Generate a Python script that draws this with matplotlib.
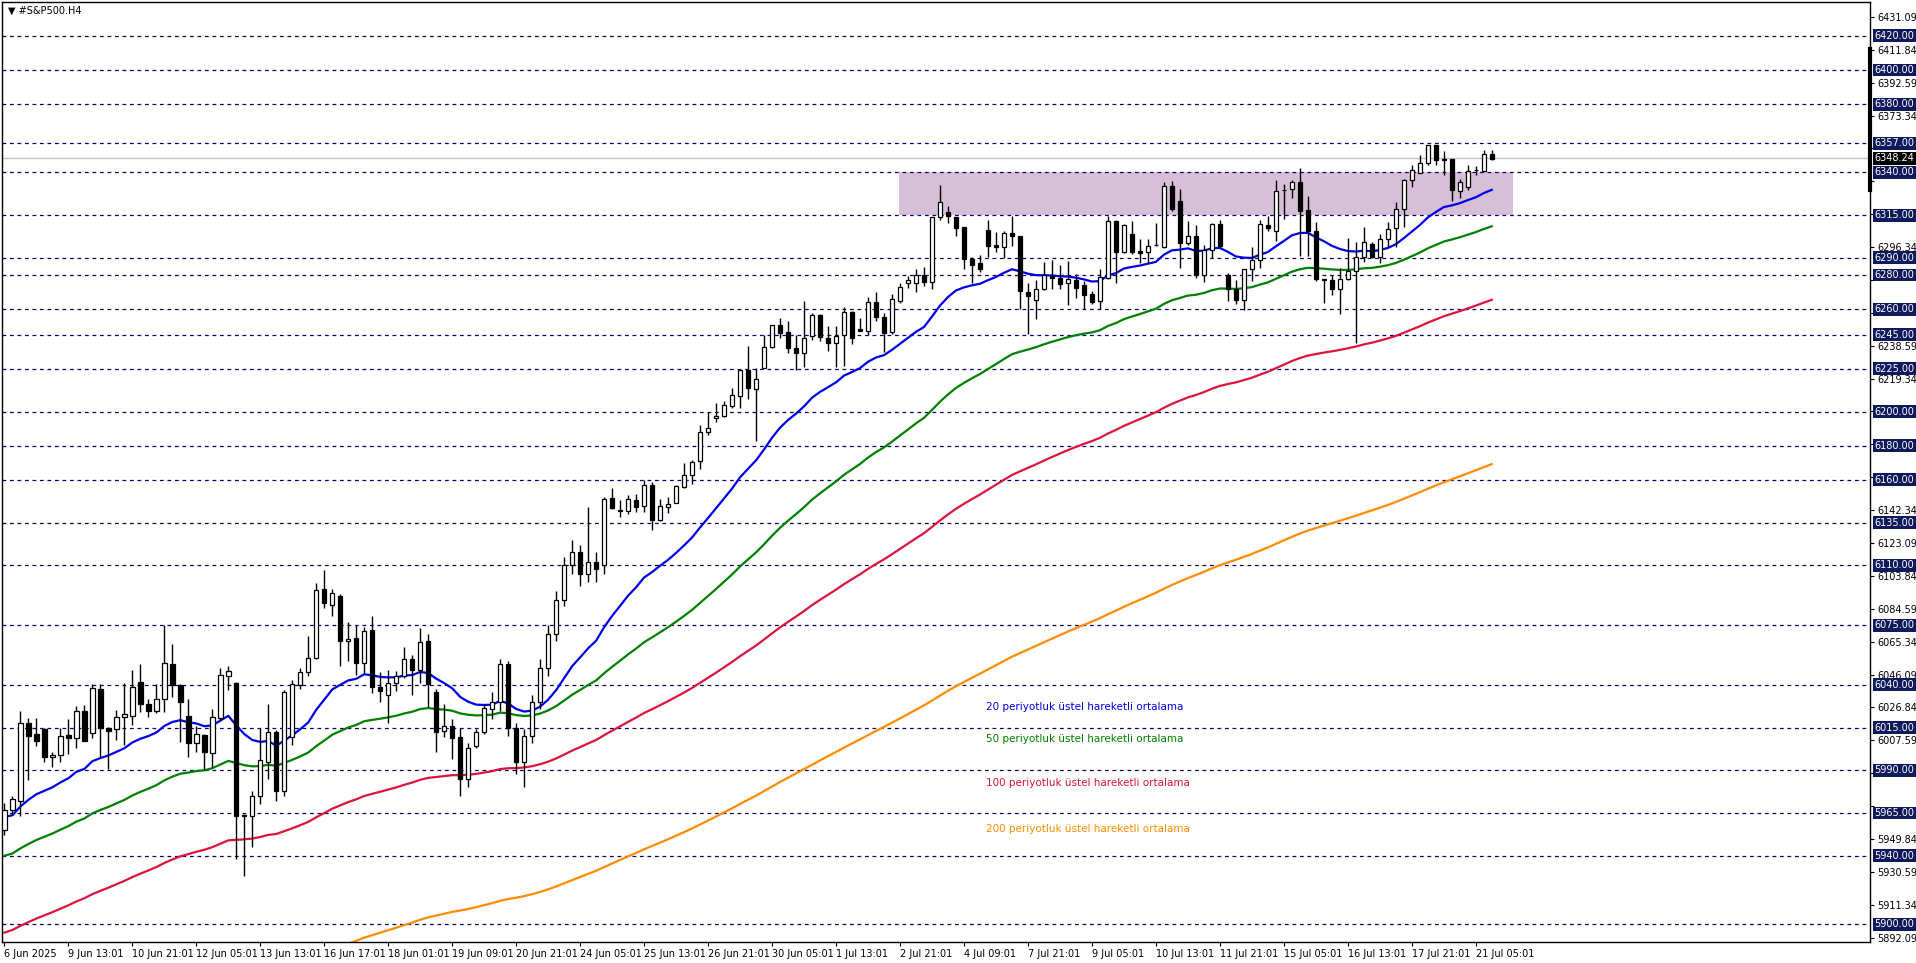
import matplotlib
matplotlib.use("Agg")
import matplotlib.pyplot as plt
import matplotlib.transforms as mtransforms
import numpy as np

title = "▼ #S&P500.H4"
opens = [5955.3,5966.6,5972,6017.6,6011,6014,5997.6,5998.7,6010.8,6008.7,6025,6012,6037.7,6015,6014,6021.5,6022,6041.6,6029,6025,
 6032,6052,6040,6021.7,6005.8,6010.8,6000,6020.5,6045.4,6041,5964,5963,5975,5995,6012.7,5978,6009.8,6040,6047.4,6055.5,
 6096.4,6087,6092.3,6066,6067.2,6052.6,6072,6038.6,6034,6041.3,6045.2,6055,6048.7,6065.7,6035.7,6013.1,6016.2,6009.4,5985,6004.4,
 6012.7,6026,6030,6052,6015,5995,6010,6030,6050,6070,6090,6110,6118,6105,6112,6110,6149.5,6142,6141.6,6148.4,
 6144.5,6157.3,6136.3,6144,6146.4,6155.8,6163,6171.3,6187.9,6196.2,6197.2,6203.1,6209.3,6224.3,6213.2,6225.8,6238,6250.5,6246.6,6237,
 6234.6,6244.1,6256.4,6243,6240.4,6244.7,6258.5,6248.2,6247.2,6264.2,6255.4,6246.8,6264.7,6275.4,6275.4,6280.2,6276,6314,6316.6,6314,
 6307.9,6289.6,6286.9,6306.6,6297.4,6296.2,6304.6,6302.7,6270,6265.1,6271.5,6279.3,6278,6275.4,6276.8,6273.9,6268.6,6264.7,6278.3,6311.8,
 6293.5,6304.2,6293.9,6293.5,6297.4,6296.5,6331.9,6323.1,6298.8,6302.7,6280,6294.9,6310.1,6280,6271.5,6265.1,6283.6,6288.5,6309.5,6306,
 6330,6330.4,6334.2,6318.3,6305.6,6276.8,6277,6271.6,6277.4,6282.6,6290.6,6298.4,6290.6,6301.3,6307.6,6318.8,6335.6,6339.9,6345.5,6355.8,
 6348,6348,6329.4,6331.5,6341.2,6341,6351]
highs = [5971,5975,6025,6020.5,6020.5,6014.7,6000.7,6015,6020,6027.7,6028,6040.6,6040.6,6015.5,6025.4,6041,6049,6052,6031.8,6040.6,
 6075,6064,6040.5,6032,6015.7,6011,6026,6049.7,6051,6042,5964.5,5978,6014.7,6029,6013.7,6037,6043,6050,6068.6,6099.7,
 6107.5,6096.4,6093.5,6076.6,6075,6074,6080.3,6047.8,6049,6048,6062,6057.5,6073.6,6069.7,6037.6,6028.9,6020,6015,6006,6014,
 6029,6036,6055,6054,6018,6014,6034,6055,6075,6095,6115,6125,6122,6144,6118,6150,6155,6148.4,6151,6152,
 6159.8,6158.7,6149,6150,6156.8,6170,6171.7,6192,6200,6205,6206,6214,6225,6238.5,6225.8,6244.7,6251,6254.6,6253,6245,
 6265,6258,6257,6250,6250,6261.2,6259,6254.6,6267,6270,6258,6268.6,6275.4,6279.3,6283.6,6284.6,6314,6332.4,6320.5,6314,
 6307.9,6290.4,6291.8,6312,6305.2,6306,6314.3,6302.7,6275.4,6276.8,6287.7,6288.5,6286,6288,6280.3,6276.4,6270.6,6283.2,6314.3,6312.4,
 6309.9,6311.4,6301.3,6301.3,6310.5,6334.4,6334.8,6330.3,6311.5,6309.1,6297.8,6310.5,6312.2,6281,6276.8,6283.6,6296.5,6312.4,6314.4,6335.4,
 6333.4,6335.4,6342.6,6326,6311.1,6277.9,6279.9,6284.2,6301.7,6299.2,6307.9,6299.4,6303.7,6310.9,6322.5,6336.2,6344.5,6350,6355.8,6356.2,
 6352.7,6348,6336.3,6344.5,6343.5,6353.3,6353.3]
lows = [5952.4,5964,5963,5984.5,6004,5994.7,5992,5995,5999.7,6002.8,6007,6009,5997,5990.8,6007.5,6005,6016.6,6024.4,6021.5,6023.5,
 6024.4,6033,6006.5,5997.6,6001,5990.4,5992,6019,6037,5937.8,5928,5945,5970,5985,5972,5975,6005,6037.4,6045,6055,
 6085.3,6080.5,6051.3,6054.2,6045.8,6046.8,6035,6030.2,6018,6036.7,6043.9,6034,6041,6027.3,6000.5,6009.8,5996.6,5975,5980,6003,
 6011,6020,6025,6010,5988,5980,6006,6026,6045,6066,6086,6105,6098,6100,6100,6105,6143,6138.3,6140,6141.2,
 6141.2,6130.5,6135.9,6140.6,6146.4,6155.2,6157.7,6166.5,6186.5,6193.7,6196.6,6202,6202,6207.3,6183,6225.4,6237.5,6243.3,6234.6,6224.3,
 6226.2,6242,6241.4,6235.5,6226.2,6226.8,6239.5,6247.2,6245,6253,6235,6245.7,6263.7,6272.5,6270,6273.4,6271.9,6312,6310.7,6302.6,
 6283.2,6275.4,6281.6,6290.4,6293.5,6290,6296.8,6259.9,6245.7,6254,6271,6271.9,6271.9,6262.2,6266.7,6259.9,6262.8,6259.9,6277.9,6275.4,
 6292.9,6292,6287.1,6287.1,6296.8,6295.5,6317.3,6283.8,6297.3,6278,6276,6289.7,6295.8,6265,6263,6259.3,6276.4,6284.2,6306,6299.8,
 6313,6325.1,6291,6291,6276.4,6263.8,6268,6257,6276.8,6240.4,6287.8,6290,6287.1,6296.5,6296.5,6308,6331.3,6339.9,6344.5,6344.5,
 6338.7,6323.1,6324.9,6330,6338.3,6340.7,6347.4]
closes = [5966.6,5973,6017.6,6010,6007,5997.6,5999,6010,6008.7,6025,6007,6038,6014.7,6013,6021,6022.9,6038.6,6029,6025,6032,
 6052.6,6040,6030,6005.8,6011,6000.7,6021,6045.6,6048.4,5963,5963,5975,5996,6012.7,5978,6035.7,6040.4,6047.4,6056,6095.8,
 6087.7,6093.9,6065.9,6067,6052.6,6071.7,6039,6036.7,6041.3,6045.2,6055,6048.7,6064.9,6040.6,6012.7,6016.2,6009.2,5985,6003,6012.7,
 6026.4,6030,6052,6015,5995,6010,6030,6050,6070,6090,6110,6118,6105,6112,6108,6149,6143.5,6142,6149,6144,
 6157,6136.3,6144.9,6146,6156.3,6163,6170.7,6187.9,6190.4,6197.6,6203.8,6209.7,6224.3,6213.6,6219,6238,6250.5,6246.2,6237.5,6234.6,
 6243.3,6256.4,6243.7,6240.4,6244.3,6258.5,6243.3,6247.2,6264.2,6255.6,6246.2,6265.7,6273,6276.8,6280.2,6276,6314,6323,6314.7,6307.5,
 6289.6,6285.7,6283.2,6297.2,6296.4,6304.6,6303,6270.6,6267.6,6271.5,6279.9,6278,6275,6277.4,6272.1,6268,6264.3,6278.7,6311.8,6293.5,
 6309.5,6293.5,6292.9,6297.2,6297.6,6331.9,6318.6,6298.8,6302.7,6280,6294.9,6310.1,6296.9,6272,6265.3,6283.2,6288.5,6310.1,6307.6,6329,
 6329.5,6334.5,6317.7,6305.6,6277.4,6277.9,6271.6,6277.4,6282.6,6290.6,6299.4,6290.6,6301.3,6307.2,6318.8,6335.4,6341.6,6345.8,6355.8,6347.1,
 6347.4,6330,6334.2,6341,6341.4,6351,6348.1]

levels = [6420,6400,6380,6357,6340,6315,6290,6280,6260,6245,6225,6200,6180,6160,6135,6110,6075,6040,6015,5990,5965,5940,5900]
current_price = 6348.24
zone = (6315, 6340)
ema_periods = [20, 50, 100, 200]
ema_seeds = [5962.7, 5940.0, 5895.0, 5815.0]
ema_colors = ["#0000E6", "#008000", "#DC143C", "#FF8C00"]
ema_labels = ["20 periyotluk üstel hareketli ortalama", "50 periyotluk üstel hareketli ortalama",
              "100 periyotluk üstel hareketli ortalama", "200 periyotluk üstel hareketli ortalama"]
xlabels = ["6 Jun 2025","9 Jun 13:01","10 Jun 21:01","12 Jun 05:01","13 Jun 13:01","16 Jun 17:01","18 Jun 01:01",
 "19 Jun 09:01","20 Jun 21:01","24 Jun 05:01","25 Jun 13:01","26 Jun 21:01","30 Jun 05:01","1 Jul 13:01",
 "2 Jul 21:01","4 Jul 09:01","7 Jul 21:01","9 Jul 05:01","10 Jul 13:01","11 Jul 21:01","15 Jul 05:01",
 "16 Jul 13:01","17 Jul 21:01","21 Jul 05:01"]

n = len(closes)
x = np.arange(n)
o = np.array(opens); h = np.array(highs); l = np.array(lows); c = np.array(closes)

fig = plt.figure(figsize=(19.16, 9.63), dpi=100)
ax = fig.add_axes([2/1916, 21/963, 1868/1916, 940/963])
ax.set_xlim(-0.3, 233.3)
ax.set_ylim(5889.5, 6439.8)

for lv in levels:
    ax.axhline(lv, color="#000070", lw=0.9, ls=(0, (3, 3)), zorder=1)
ax.axhline(current_price, color="#C0C0C0", lw=1, zorder=1)
ax.fill_between([111.9, 188.6], zone[0], zone[1], color="#D8BFD8", lw=0, zorder=0.5)

for p, s, col in zip(ema_periods, ema_seeds, ema_colors):
    a = 2 / (p + 1)
    e = np.empty(n); e[0] = s
    for i in range(1, n):
        e[i] = e[i-1] + a * (c[i] - e[i-1])
    ax.plot(x, e, color=col, lw=1.6, zorder=2)

ax.vlines(x, l, h, color="black", lw=1, zorder=3)
bot = np.minimum(o, c); ht = np.maximum(np.abs(c - o), 0.4)
fill = np.where(c >= o, "white", "black")
ax.bar(x, ht, bottom=bot, width=0.55, color=fill, edgecolor="black", lw=0.9, zorder=4)

for lab, col, yy in zip(ema_labels, ema_colors, [6027.1, 6008.4, 5982.7, 5955.9]):
    ax.text(122.7, yy, lab, color=col, fontsize=7.5, va="center", ha="left", zorder=5)

ax.text(0.003, 0.996, title, transform=ax.transAxes, fontsize=7, va="top", ha="left")

ax.yaxis.tick_right()
ticks = [6431.09 - 19.25*k for k in range(29)]
ax.set_yticks(ticks)
marks = levels + [current_price]
ax.set_yticklabels(["" if min(abs(t - m) for m in marks) < 5.5 else f"{t:.2f}" for t in ticks], fontsize=7)
ax.tick_params(axis="y", length=3, pad=2)
tr = mtransforms.blended_transform_factory(ax.transAxes, ax.transData)
for lv in levels:
    ax.text(1.0025, lv, f"{lv:.2f}", transform=tr, fontsize=7, color="white", va="center", ha="left",
            bbox=dict(boxstyle="square,pad=0.15", fc="#0F1A5E", ec="none"), zorder=6, clip_on=False)
ax.text(1.0025, current_price, f"{current_price:.2f}", transform=tr, fontsize=7, color="white", va="center",
        ha="left", bbox=dict(boxstyle="square,pad=0.15", fc="black", ec="none"), zorder=7, clip_on=False)
ax.plot([1.0, 1.0], [6330, 6412], transform=tr, color="black", lw=3, clip_on=False, zorder=8)

ax.set_xticks(np.arange(0, n, 8)[:len(xlabels)])
ax.set_xticklabels(xlabels, fontsize=7, ha="left")
ax.tick_params(axis="x", length=3, pad=2)
for sp in ax.spines.values():
    sp.set_color("black"); sp.set_linewidth(1)
fig.savefig("out.png", dpi=100)
